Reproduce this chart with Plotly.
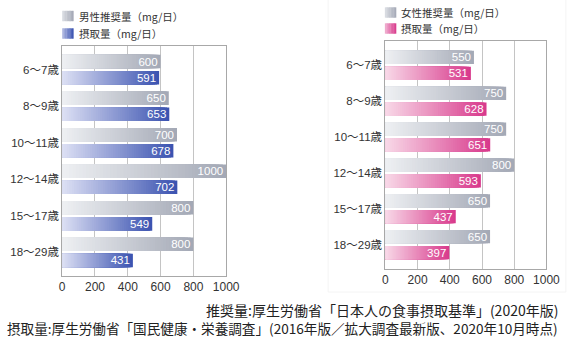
import plotly.graph_objects as go

# ---------------- data ----------------
categories = ["6～7歳", "8～9歳", "10～11歳", "12～14歳", "15～17歳", "18～29歳"]
male_recommended = [600, 650, 700, 1000, 800, 800]
male_intake = [591, 653, 678, 702, 549, 431]
female_recommended = [550, 750, 750, 800, 650, 650]
female_intake = [531, 628, 651, 593, 437, 397]
x_tick_values = [0, 200, 400, 600, 800, 1000]
x_tick_labels = ["0", "200", "400", "600", "800", "1000"]
legend_left = ["男性推奨量（mg/日）", "摂取量（mg/日）"]
legend_right = ["女性推奨量（mg/日）", "摂取量（mg/日）"]
footer_lines = [
    "推奨量:厚生労働省「日本人の食事摂取基準」(2020年版)",
    "摂取量:厚生労働省「国民健康・栄養調査」(2016年版／拡大調査最新版、2020年10月時点)",
]

# ---------------- styles ----------------
W, H = 575, 342
GRAY = ("#eef0f3", "#a3a8b5")
BLUE = ("#dde0f4", "#3a52b0")
PINK = ("#f8d9e8", "#d8388b")
CJK = "Noto Sans CJK JP"
NUM = "Liberation Sans, Noto Sans CJK JP"
TXT = "#333333"


def px_x(p):
    return p / W


def px_y(p):
    return 1 - p / H


def hex2rgb(h):
    h = h.lstrip("#")
    return tuple(int(h[i:i + 2], 16) for i in (0, 2, 4))


def lerp(c1, c2, t):
    a, b = hex2rgb(c1), hex2rgb(c2)
    return "rgb(%d,%d,%d)" % tuple(round(a[i] + (b[i] - a[i]) * t) for i in range(3))


def gradient_trace(values, colors, offset, width, xa, ya, n=48):
    xs, ys, cols = [], [], []
    for k in range(n, 0, -1):
        col = lerp(colors[0], colors[1], (k - 0.5) / n)
        for cat, v in zip(categories, values):
            xs.append(v * k / n)
            ys.append(cat)
            cols.append(col)
    return go.Bar(x=xs, y=ys, orientation="h", offset=offset, width=width,
                  marker=dict(color=cols, line=dict(width=0)),
                  xaxis=xa, yaxis=ya, showlegend=False, hoverinfo="skip")


def label_trace(values, offset, width, xa, ya):
    return go.Bar(x=values, y=categories, orientation="h", offset=offset, width=width,
                  marker=dict(color="rgba(0,0,0,0)", line=dict(width=0)),
                  text=[str(v) for v in values], textposition="inside",
                  insidetextanchor="end", constraintext="none", textangle=0,
                  textfont=dict(color="white", size=11.5, family=NUM),
                  xaxis=xa, yaxis=ya, showlegend=False, hoverinfo="skip")


BW = 0.37
OFF_TOP = -0.22 - BW / 2
OFF_BOT = 0.22 - BW / 2

fig = go.Figure()
fig.add_trace(gradient_trace(male_recommended, GRAY, OFF_TOP, BW, "x", "y"))
fig.add_trace(gradient_trace(male_intake, BLUE, OFF_BOT, BW, "x", "y"))
fig.add_trace(label_trace(male_recommended, OFF_TOP, BW, "x", "y"))
fig.add_trace(label_trace(male_intake, OFF_BOT, BW, "x", "y"))
fig.add_trace(gradient_trace(female_recommended, GRAY, OFF_TOP, BW, "x2", "y2"))
fig.add_trace(gradient_trace(female_intake, PINK, OFF_BOT, BW, "x2", "y2"))
fig.add_trace(label_trace(female_recommended, OFF_TOP, BW, "x2", "y2"))
fig.add_trace(label_trace(female_intake, OFF_BOT, BW, "x2", "y2"))

xaxis_common = dict(range=[0, 1000], tickvals=x_tick_values, ticktext=x_tick_labels,
                    showgrid=True, gridcolor="#c4c4c4", gridwidth=1,
                    showline=True, linecolor="#a8a8a8", linewidth=1, mirror=True,
                    ticks="", zeroline=False, fixedrange=True,
                    tickfont=dict(size=12, color=TXT, family=NUM))
yaxis_common = dict(type="category", categoryorder="array", categoryarray=categories,
                    showgrid=False, showline=True, linecolor="#a8a8a8", linewidth=1,
                    mirror=True, ticks="", zeroline=False, fixedrange=True,
                    tickfont=dict(size=11.5, color=TXT, family=NUM))

shapes = []
annotations = []


def add_legend(x0, ys, texts, color_pairs, tx):
    for yc, text, cp in zip(ys, texts, color_pairs):
        n = 8
        sw = 11.5
        for i in range(n):
            shapes.append(dict(type="rect", xref="paper", yref="paper",
                               x0=px_x(x0 + sw * i / n), x1=px_x(x0 + sw * (i + 1) / n + 0.3),
                               y0=px_y(yc - 5.2), y1=px_y(yc + 5.2),
                               fillcolor=lerp(cp[0], cp[1], 0.25 + 0.75 * (i + 0.5) / n),
                               line=dict(width=0), layer="above"))
        annotations.append(dict(xref="paper", yref="paper", x=px_x(tx), y=px_y(yc),
                                xanchor="left", yanchor="middle", showarrow=False,
                                text=text, font=dict(size=10.5, color=TXT, family=CJK)))


add_legend(61, [16, 33.5], legend_left, [GRAY, BLUE], 76)
add_legend(393.5, [12.5, 28.5], legend_right, [GRAY, PINK], 408)

# faint panel frame around the right chart
shapes.append(dict(type="rect", xref="paper", yref="paper",
                   x0=px_x(335), x1=px_x(580), y0=px_y(292), y1=px_y(-5),
                   line=dict(color="#f4f4f4", width=1), fillcolor="rgba(0,0,0,0)", layer="below"))

footer_sizes = [14, 13.6]
for i, (line, fs) in enumerate(zip(footer_lines, footer_sizes)):
    annotations.append(dict(xref="paper", yref="paper", x=px_x(574), y=px_y(310 + 18 * i),
                            xanchor="right", yanchor="middle", showarrow=False,
                            text=line, font=dict(size=fs, color="#222222", family=CJK)))

fig.update_layout(
    width=W, height=H,
    margin=dict(l=0, r=0, t=0, b=0),
    paper_bgcolor="white", plot_bgcolor="white",
    barmode="overlay", showlegend=False,
    xaxis=dict(domain=[px_x(61), px_x(230)], anchor="y", **xaxis_common),
    yaxis=dict(domain=[px_y(276), px_y(46)], anchor="x", range=[5.646, -0.646], **yaxis_common),
    xaxis2=dict(domain=[px_x(394), px_x(560)], anchor="y2", **xaxis_common),
    yaxis2=dict(domain=[px_y(269), px_y(41)], anchor="x2", range=[5.68, -0.68], **yaxis_common),
    shapes=shapes, annotations=annotations,
)

fig.write_html("out.html", config={"displayModeBar": False})
